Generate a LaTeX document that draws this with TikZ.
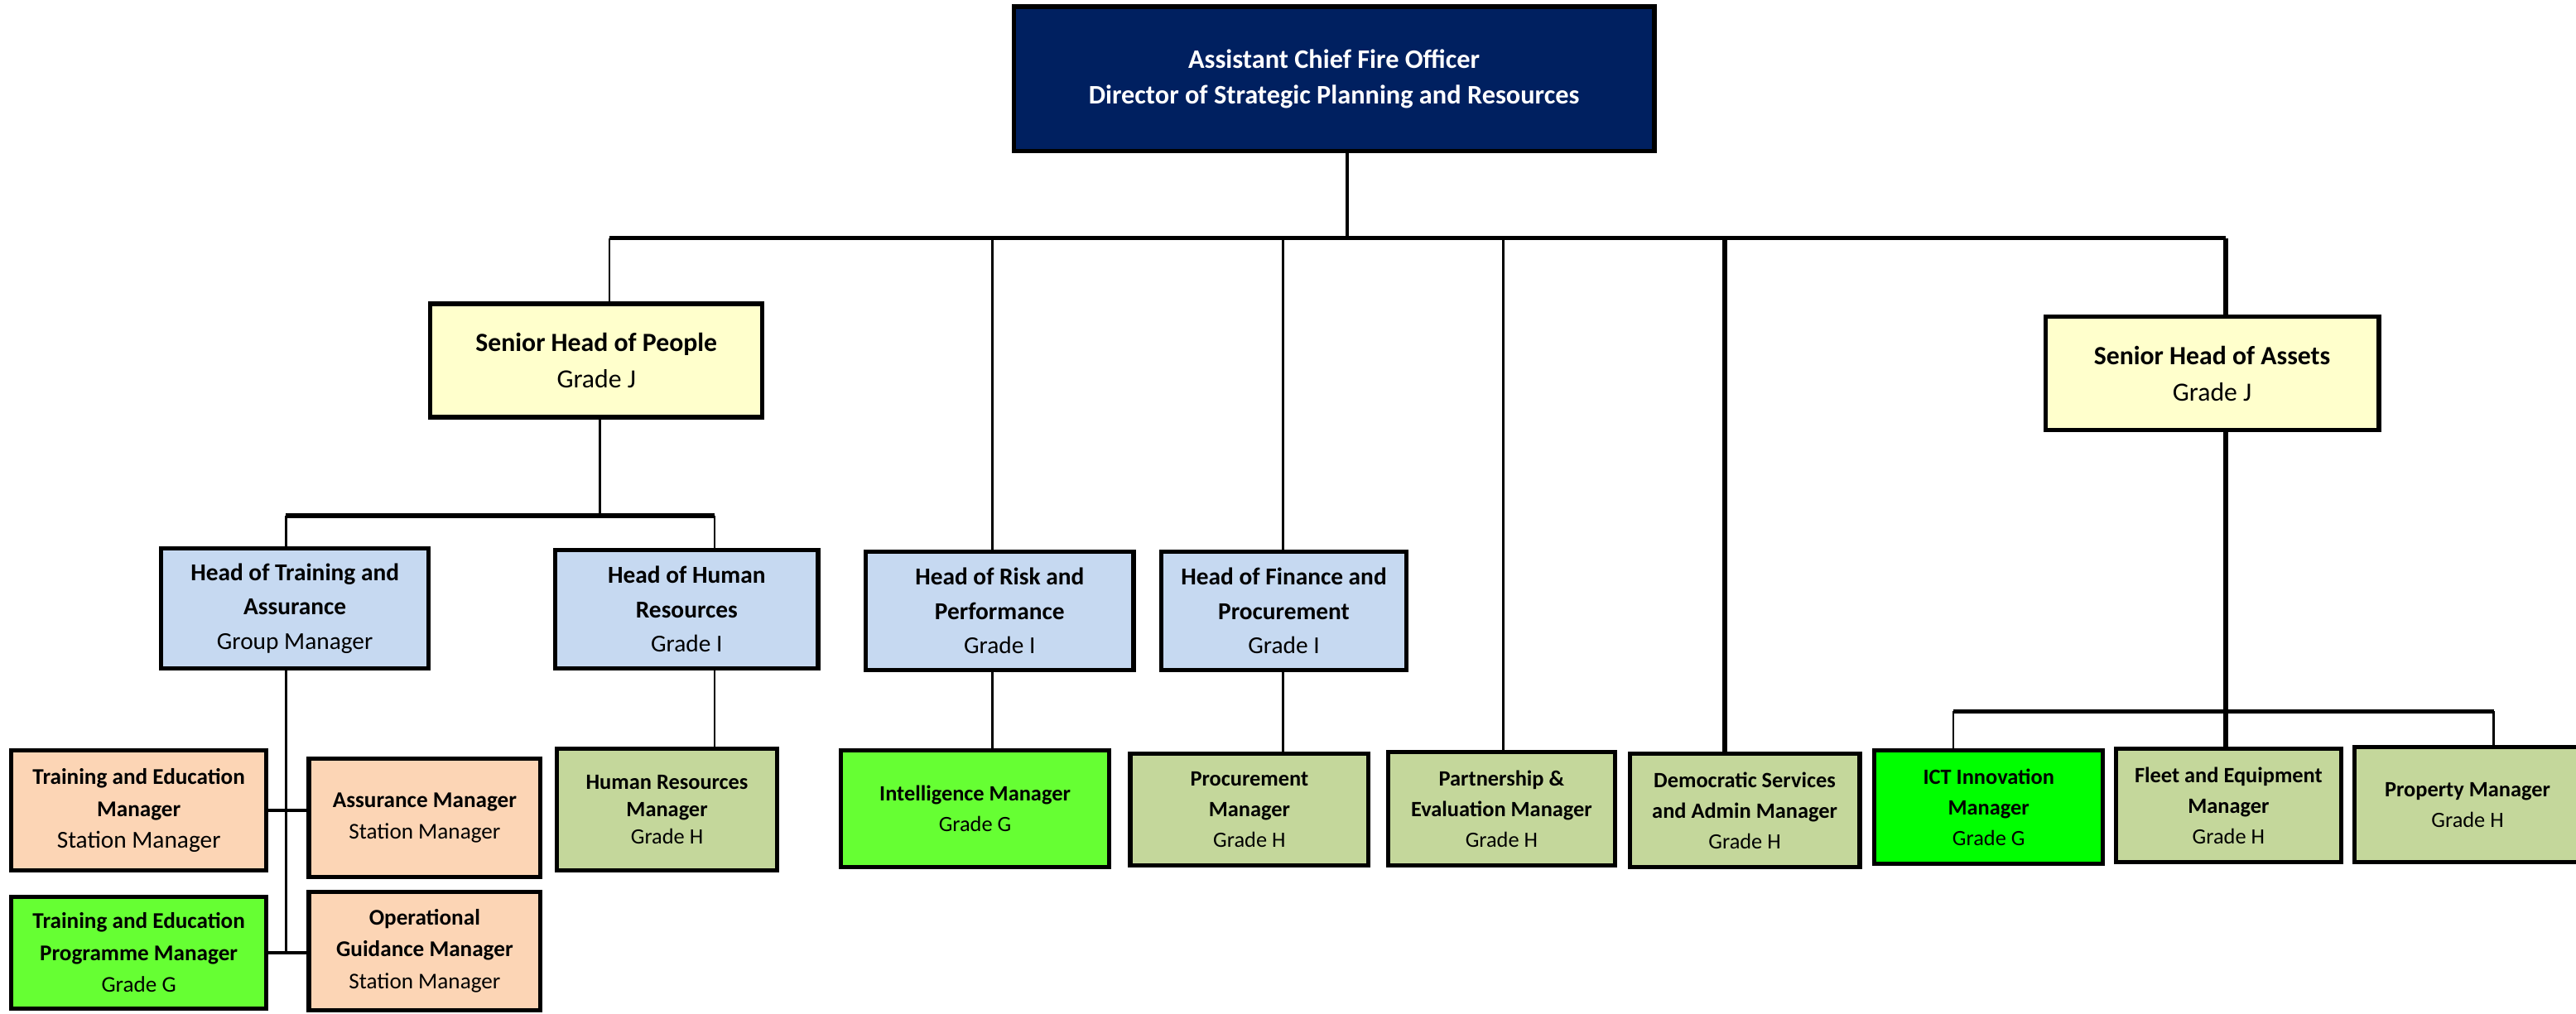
\documentclass[tikz,border=0pt]{standalone}
\usepackage{fontspec}
\setmainfont{Carlito}
\definecolor{navyc}{HTML}{002060}
\definecolor{yellowc}{HTML}{FFFFCC}
\definecolor{bluec}{HTML}{C6D9F1}
\definecolor{peachc}{HTML}{FCD5B5}
\definecolor{olivec}{HTML}{C4D79B}
\definecolor{limec}{HTML}{66FF33}
\definecolor{greenc}{HTML}{00FF00}
\newcommand\fsTop{\fontsize{16.3}{22}\selectfont}
\newcommand\fsSen{\fontsize{16}{22.5}\selectfont}
\newcommand\fsHd{\fontsize{14.8}{21}\selectfont}
\newcommand\fsBL{\fontsize{13.7}{19.5}\selectfont}
\newcommand\fsBot{\fontsize{13.3}{18.5}\selectfont}
\tikzset{
  box/.style={draw=black, line width=2.6pt, inner sep=0pt, outer sep=0pt, align=center, text=black},
  conn/.style={draw=black, line width=1.4pt},
  barline/.style={draw=black, line width=2.6pt},
  thickconn/.style={draw=black, line width=3pt},
  medconn/.style={draw=black, line width=2pt},
}
\begin{document}
\begin{tikzpicture}[x=1pt,y=-1pt]
\useasboundingbox (0,0) rectangle (1568,617);
\fill[white] (0,0) rectangle (1568,617);

% top
\node[box, fill=navyc, text=white, minimum width=390pt, minimum height=88pt, font=\fsTop\bfseries] (top) at (812,48) {Assistant Chief Fire Officer\\Director of Strategic Planning and Resources};

% seniors
\node[box, fill=yellowc, minimum width=202pt, minimum height=69pt, font=\fsSen] (shp) at (363,219.5) {\textbf{Senior Head of People}\\Grade J};
\node[box, fill=yellowc, minimum width=203pt, minimum height=69pt, font=\fsSen] (sha) at (1346.5,227.5) {\textbf{Senior Head of Assets}\\Grade J};

% heads
\node[box, fill=bluec, minimum width=163pt, minimum height=73pt, font=\fsHd] (hta) at (179.5,370.5) {\textbf{Head of Training and}\\\textbf{Assurance}\\Group Manager};
\node[box, fill=bluec, minimum width=160pt, minimum height=72pt, font=\fsHd] (hhr) at (418,371) {\textbf{Head of Human}\\\textbf{Resources}\\Grade I};
\node[box, fill=bluec, minimum width=163pt, minimum height=72pt, font=\fsHd] (hrp) at (608.5,372) {\textbf{Head of Risk and}\\\textbf{Performance}\\Grade I};
\node[box, fill=bluec, minimum width=149pt, minimum height=72pt, font=\fsHd] (hfp) at (781.5,372) {\textbf{Head of Finance and}\\\textbf{Procurement}\\Grade I};

% bottom left
\node[box, fill=peachc, minimum width=155pt, minimum height=73pt, font=\fsBL] (tem) at (84.5,493.5) {\textbf{Training and Education}\\\textbf{Manager}\\{\fontsize{14.8}{19.5}\selectfont Station Manager}};
\node[box, fill=peachc, minimum width=141pt, minimum height=72pt, font=\fsBL] (am) at (258.5,498) {\textbf{Assurance Manager}\\Station Manager};
\node[box, fill=limec, minimum width=155pt, minimum height=68pt, font=\fsBL] (tepm) at (84.5,580) {\textbf{Training and Education}\\\textbf{Programme Manager}\\Grade G};
\node[box, fill=peachc, minimum width=141pt, minimum height=72pt, font=\fsBL] (ogm) at (258.5,579) {\textbf{Operational}\\\textbf{Guidance Manager}\\Station Manager};

% bottom row
\node[box, fill=olivec, minimum width=134pt, minimum height=74pt, font=\fontsize{13.3}{16.5}\selectfont] (hrm) at (406,493) {\textbf{Human Resources}\\\textbf{Manager}\\Grade H};
\node[box, fill=limec, minimum width=163pt, minimum height=71pt, font=\fsBot] (im) at (593.5,492.5) {\textbf{Intelligence Manager}\\Grade G};
\node[box, fill=olivec, minimum width=145pt, minimum height=68pt, font=\fsBot] (pm) at (760.5,493) {\textbf{Procurement}\\\textbf{Manager}\\Grade H};
\node[box, fill=olivec, minimum width=138pt, minimum height=69pt, font=\fsBot] (pem) at (914,492.5) {\textbf{Partnership \&}\\\textbf{Evaluation Manager}\\Grade H};
\node[box, fill=olivec, minimum width=140pt, minimum height=69pt, font=\fsBot] (dsam) at (1062,493.5) {\textbf{Democratic Services}\\\textbf{and Admin Manager}\\Grade H};
\node[box, fill=greenc, minimum width=139pt, minimum height=69pt, font=\fsBot] (ict) at (1210.5,491.5) {\textbf{ICT Innovation}\\\textbf{Manager}\\Grade G};
\node[box, fill=olivec, minimum width=137pt, minimum height=69pt, font=\fsBot] (fem) at (1356.5,490.5) {\textbf{Fleet and Equipment}\\\textbf{Manager}\\Grade H};
\node[box, fill=olivec, minimum width=138pt, minimum height=70pt, font=\fsBot] (prop) at (1502,490) {\textbf{Property Manager}\\Grade H};

% junction coordinates
\coordinate (j0) at (820,145);
\coordinate (bL) at (371,145);
\coordinate (b2) at (604,145);
\coordinate (b3) at (781,145);
\coordinate (b4) at (915,145);
\coordinate (b5) at (1050,145);
\coordinate (bR) at (1355,145);
\coordinate (s1) at (365,314);
\coordinate (t1) at (174,314);
\coordinate (t2) at (435,314);
\coordinate (tc) at (174,580);
\coordinate (a1) at (1189,433);
\coordinate (a2) at (1518,433);

% connectors
\draw[medconn] (j0 |- top.south) -- (j0);
\draw[barline] (bL) -- (bR);
\draw[conn] (bL) -- (bL |- shp.north);
\draw[conn] (b2) -- (b2 |- hrp.north);
\draw[conn] (b3) -- (b3 |- hfp.north);
\draw[conn] (b4) -- (b4 |- pem.north);
\draw[thickconn] (b5) -- (b5 |- dsam.north);
\draw[thickconn] (bR) -- (bR |- sha.north);

\draw[conn] (s1 |- shp.south) -- (s1);
\draw[barline] (t1) -- (t2);
\draw[conn] (t1) -- (t1 |- hta.north);
\draw[conn] (t2) -- (t2 |- hhr.north);

\draw[conn] (tc |- hta.south) -- (tc);
\draw[medconn] (tem.east) -- (am.west |- tem.east);
\draw[medconn] (tepm.east) -- (ogm.west |- tepm.east);

\draw[conn] (t2 |- hhr.south) -- (t2 |- hrm.north);
\draw[conn] (b2 |- hrp.south) -- (b2 |- im.north);
\draw[conn] (b3 |- hfp.south) -- (b3 |- pm.north);

\draw[thickconn] (bR |- sha.south) -- (bR |- fem.north);
\draw[barline] (a1) -- (a2);
\draw[conn] (a1) -- (a1 |- ict.north);
\draw[conn] (a2) -- (a2 |- prop.north);
\end{tikzpicture}
\end{document}
